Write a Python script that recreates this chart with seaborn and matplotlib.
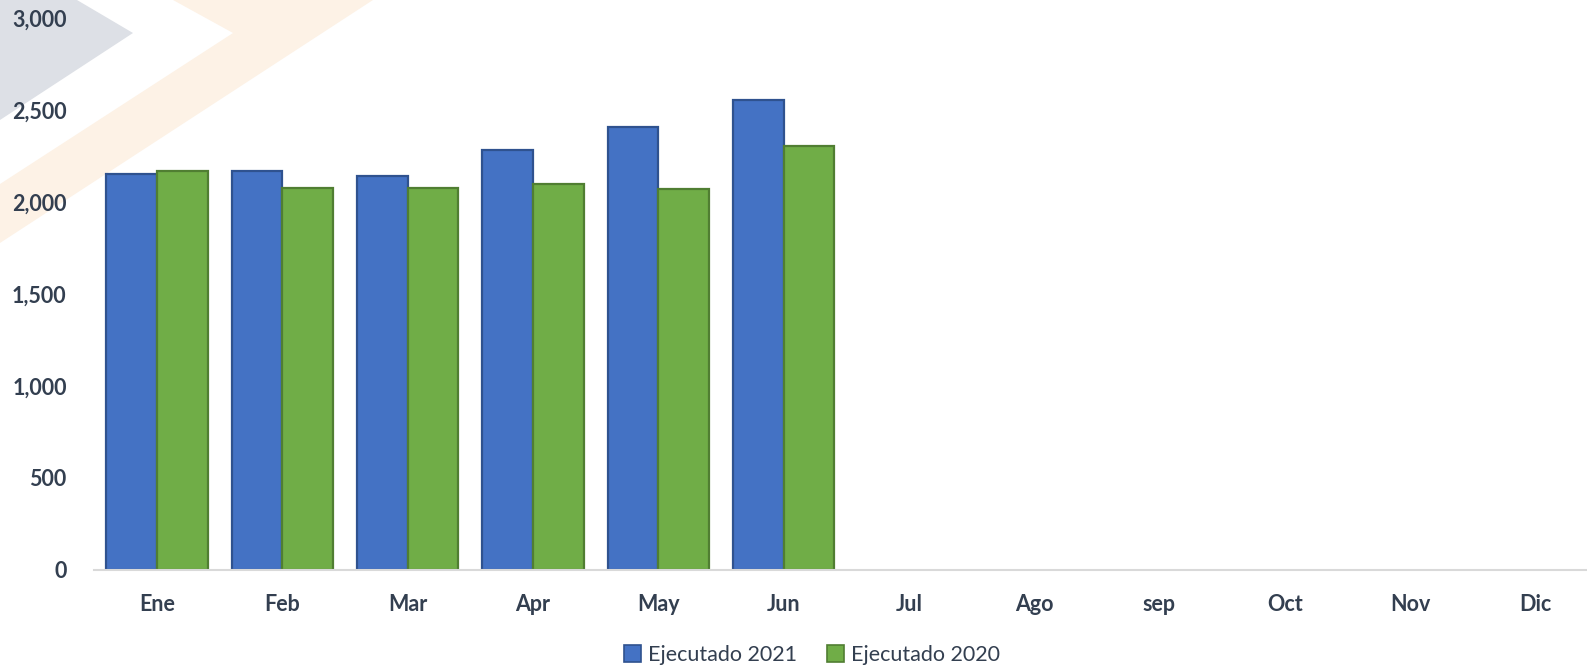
import pandas as pd
import numpy as np
import matplotlib
matplotlib.use('Agg')
import matplotlib.pyplot as plt
from matplotlib.patches import Polygon
import seaborn as sns

meses = ['Ene', 'Feb', 'Mar', 'Apr', 'May', 'Jun', 'Jul', 'Ago', 'sep', 'Oct', 'Nov', 'Dic']
ejecutado_2021 = [2152, 2168, 2141, 2283, 2408, 2554]
ejecutado_2020 = [2168, 2076, 2076, 2098, 2071, 2304]
series = ['Ejecutado 2021', 'Ejecutado 2020']
yticks = [0, 500, 1000, 1500, 2000, 2500, 3000]

rows = []
for nombre, vals in zip(series, [ejecutado_2021, ejecutado_2020]):
    for m, v in zip(meses, vals):
        rows.append({'Mes': m, 'Serie': nombre, 'Valor': v})
df = pd.DataFrame(rows)

sns.set_theme(style='white')
plt.rcParams['font.family'] = ['Lato', 'DejaVu Sans']
txt = '#333F50'

W, H = 1587, 665
fig = plt.figure(figsize=(W / 100, H / 100), dpi=100)

# background decoration (slide artwork)
def px(points):
    return [(x / W, 1 - y / H) for x, y in points]

fig.add_artist(Polygon(px([(0, 0), (77, 0), (133, 33), (0, 120)]), closed=True,
                       facecolor='#dde0e6', edgecolor='none', transform=fig.transFigure, zorder=0))
fig.add_artist(Polygon(px([(173, 0), (233, 33), (0, 184), (0, 243), (373, 0)]), closed=True,
                       facecolor='#fdf2e6', edgecolor='none', transform=fig.transFigure, zorder=0))

ax = fig.add_axes([94.4 / W, (H - 570) / H, 1503.6 / W, 552 / H])
ax.patch.set_alpha(0)

sns.barplot(data=df, x='Mes', y='Valor', hue='Serie', order=meses, hue_order=series,
            palette=['#4472C4', '#70AD47'], width=0.81, errorbar=None, ax=ax,
            saturation=1, legend=False)

edge_cols = {0: '#2F528F', 1: '#507E32'}
for i, cont in enumerate(ax.containers):
    for bar in cont:
        bar.set_edgecolor(edge_cols[i])
        bar.set_linewidth(1.6)

ax.set_xlim(-0.5, 11.5)
ax.set_ylim(0, 3000)
ax.set_yticks(yticks)
ax.set_yticklabels([f'{v:,}' for v in yticks])
ax.set_xlabel('')
ax.set_ylabel('')
for s in ['top', 'right', 'left']:
    ax.spines[s].set_visible(False)
ax.spines['bottom'].set_color('#d9d9d9')
ax.spines['bottom'].set_linewidth(1.5)
ax.tick_params(axis='y', length=0, pad=20, labelsize=15.5, labelcolor=txt)
ax.tick_params(axis='x', length=0, pad=17, labelsize=15.5, labelcolor=txt)
for lab in ax.get_xticklabels() + ax.get_yticklabels():
    lab.set_fontweight('bold')

handles = [plt.Rectangle((0, 0), 1, 1, facecolor='#4472C4', edgecolor='#2F528F', linewidth=1.2),
           plt.Rectangle((0, 0), 1, 1, facecolor='#70AD47', edgecolor='#507E32', linewidth=1.2)]
leg = fig.legend(handles, series, loc='center', bbox_to_anchor=(812 / W, 1 - 655 / H),
                 ncol=2, frameon=False, fontsize=15.5, handlelength=0.8, handleheight=0.8,
                 handletextpad=0.3, columnspacing=1.4)
for t in leg.get_texts():
    t.set_color(txt)

fig.savefig('out.png', dpi=100)
